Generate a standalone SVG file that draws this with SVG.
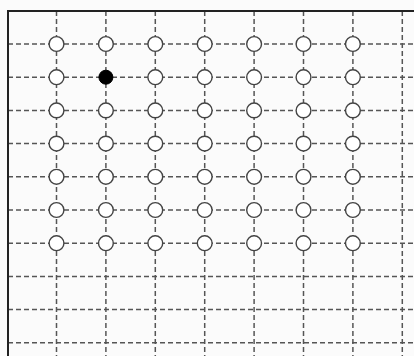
<svg xmlns="http://www.w3.org/2000/svg" width="414" height="356" viewBox="0 0 414 356">
<style>
.g{stroke:#555;stroke-width:1.5;stroke-dasharray:5 3;fill:none}
.n{fill:#fff;stroke:#444;stroke-width:1.4}
.f{fill:#000;stroke:#000;stroke-width:1}
.b{stroke:#222;stroke-width:2;fill:none}
</style>
<rect width="414" height="356" fill="#fbfbfb"/>
<g id="connectors">
<path class="g" d="M8 44H414M8 77.2H414M8 110.4H414M8 143.6H414M8 176.8H414M8 210H414M8 243.2H414M8 276.4H414M8 309.6H414M8 342.8H414"/>
<path class="g" d="M56.5 11V356M105.9 11V356M155.3 11V356M204.7 11V356M254.1 11V356M303.5 11V356M352.9 11V356M402.3 11V356"/>
<path class="b" d="M8 356V11H414"/>
</g>
<g id="nodes">
<g id="r1"><circle class="n" cx="56.5" cy="44" r="7.4"/><circle class="n" cx="105.9" cy="44" r="7.4"/><circle class="n" cx="155.3" cy="44" r="7.4"/><circle class="n" cx="204.7" cy="44" r="7.4"/><circle class="n" cx="254.1" cy="44" r="7.4"/><circle class="n" cx="303.5" cy="44" r="7.4"/><circle class="n" cx="352.9" cy="44" r="7.4"/></g>
<g id="r2"><circle class="n" cx="56.5" cy="77.2" r="7.4"/><circle class="f" cx="105.9" cy="77.2" r="7"/><circle class="n" cx="155.3" cy="77.2" r="7.4"/><circle class="n" cx="204.7" cy="77.2" r="7.4"/><circle class="n" cx="254.1" cy="77.2" r="7.4"/><circle class="n" cx="303.5" cy="77.2" r="7.4"/><circle class="n" cx="352.9" cy="77.2" r="7.4"/></g>
<g id="r3"><circle class="n" cx="56.5" cy="110.4" r="7.4"/><circle class="n" cx="105.9" cy="110.4" r="7.4"/><circle class="n" cx="155.3" cy="110.4" r="7.4"/><circle class="n" cx="204.7" cy="110.4" r="7.4"/><circle class="n" cx="254.1" cy="110.4" r="7.4"/><circle class="n" cx="303.5" cy="110.4" r="7.4"/><circle class="n" cx="352.9" cy="110.4" r="7.4"/></g>
<g id="r4"><circle class="n" cx="56.5" cy="143.6" r="7.4"/><circle class="n" cx="105.9" cy="143.6" r="7.4"/><circle class="n" cx="155.3" cy="143.6" r="7.4"/><circle class="n" cx="204.7" cy="143.6" r="7.4"/><circle class="n" cx="254.1" cy="143.6" r="7.4"/><circle class="n" cx="303.5" cy="143.6" r="7.4"/><circle class="n" cx="352.9" cy="143.6" r="7.4"/></g>
<g id="r5"><circle class="n" cx="56.5" cy="176.8" r="7.4"/><circle class="n" cx="105.9" cy="176.8" r="7.4"/><circle class="n" cx="155.3" cy="176.8" r="7.4"/><circle class="n" cx="204.7" cy="176.8" r="7.4"/><circle class="n" cx="254.1" cy="176.8" r="7.4"/><circle class="n" cx="303.5" cy="176.8" r="7.4"/><circle class="n" cx="352.9" cy="176.8" r="7.4"/></g>
<g id="r6"><circle class="n" cx="56.5" cy="210" r="7.4"/><circle class="n" cx="105.9" cy="210" r="7.4"/><circle class="n" cx="155.3" cy="210" r="7.4"/><circle class="n" cx="204.7" cy="210" r="7.4"/><circle class="n" cx="254.1" cy="210" r="7.4"/><circle class="n" cx="303.5" cy="210" r="7.4"/><circle class="n" cx="352.9" cy="210" r="7.4"/></g>
<g id="r7"><circle class="n" cx="56.5" cy="243.2" r="7.4"/><circle class="n" cx="105.9" cy="243.2" r="7.4"/><circle class="n" cx="155.3" cy="243.2" r="7.4"/><circle class="n" cx="204.7" cy="243.2" r="7.4"/><circle class="n" cx="254.1" cy="243.2" r="7.4"/><circle class="n" cx="303.5" cy="243.2" r="7.4"/><circle class="n" cx="352.9" cy="243.2" r="7.4"/></g>
</g>
</svg>
